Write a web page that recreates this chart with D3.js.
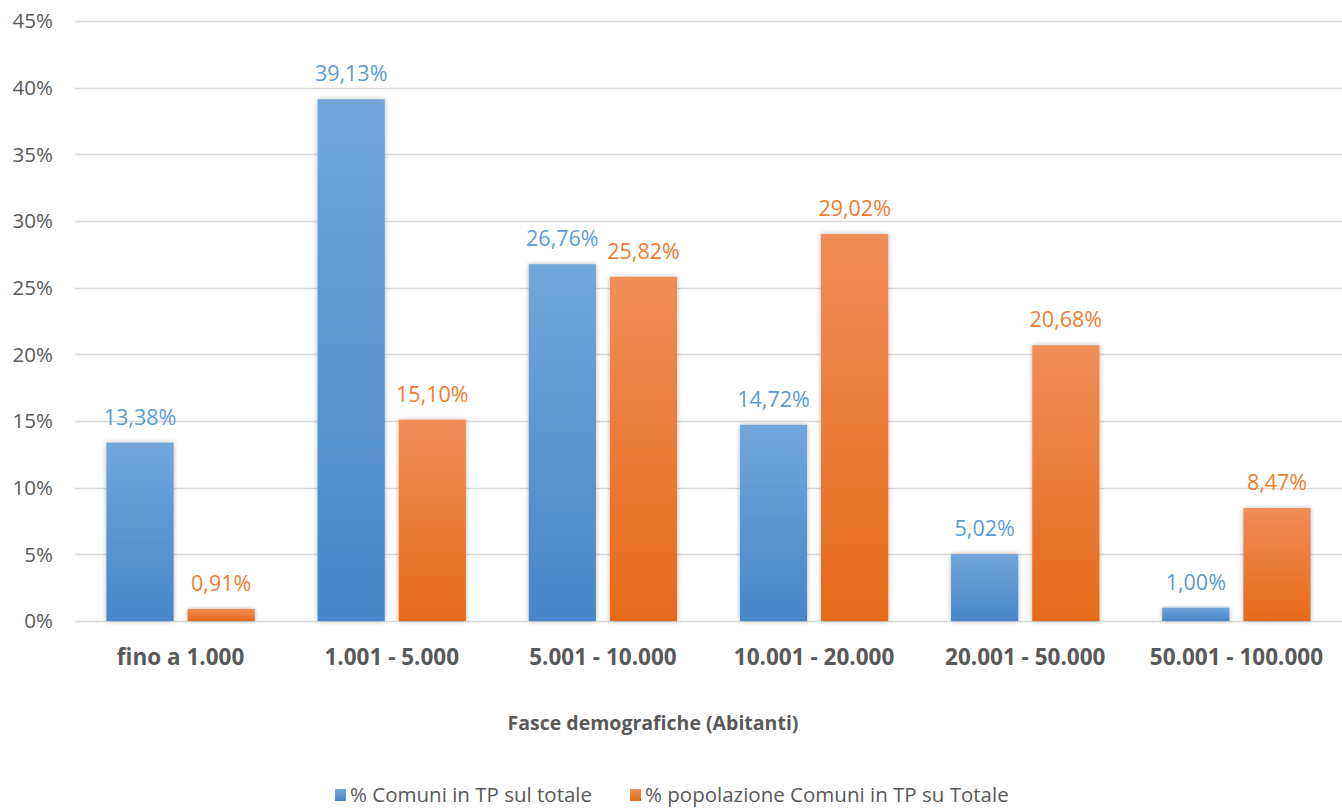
<!DOCTYPE html>
<html lang="it">
<head>
<meta charset="UTF-8">
<title>Comuni in TP per fasce demografiche</title>
<script src="https://d3js.org/d3.v7.min.js"></script>
<style>
  body { margin: 0; background: #fff; }
  svg { display: block; font-family: "Open Sans", "Noto Sans", sans-serif; }
</style>
</head>
<body>
<div id="chart"></div>
<script>
const categories = ["fino a 1.000", "1.001 - 5.000", "5.001 - 10.000", "10.001 - 20.000", "20.001 - 50.000", "50.001 - 100.000"];
const comuni = [13.38, 39.13, 26.76, 14.72, 5.02, 1.00];
const popolazione = [0.91, 15.10, 25.82, 29.02, 20.68, 8.47];
const seriesNames = ["% Comuni in TP sul totale", "% popolazione Comuni in TP su Totale"];
const yTicks = [0, 5, 10, 15, 20, 25, 30, 35, 40, 45];

const width = 1342, height = 808;
const margin = {left: 75, right: 0, top: 21, bottom: 187};

const svg = d3.select("#chart").append("svg")
    .attr("width", width)
    .attr("height", height);

const defs = svg.append("defs");
function grad(id, top, bottom) {
    const g = defs.append("linearGradient").attr("id", id)
        .attr("x1", 0).attr("y1", 0).attr("x2", 0).attr("y2", 1);
    g.append("stop").attr("offset", "0%").attr("stop-color", top);
    g.append("stop").attr("offset", "100%").attr("stop-color", bottom);
}
grad("gBlue", "#72a6da", "#4686c8");
grad("gOrange", "#f08d58", "#e56a19");

const shadow = defs.append("filter").attr("id", "shadow")
    .attr("x", "-20%").attr("y", "-20%").attr("width", "140%").attr("height", "140%");
shadow.append("feGaussianBlur").attr("in", "SourceAlpha").attr("stdDeviation", 2.5).attr("result", "b");
shadow.append("feComponentTransfer").attr("in", "b").attr("result", "s")
    .append("feFuncA").attr("type", "linear").attr("slope", 0.3);
const merge = shadow.append("feMerge");
merge.append("feMergeNode").attr("in", "s");
merge.append("feMergeNode").attr("in", "SourceGraphic");

const x0 = d3.scaleBand()
    .domain(categories)
    .range([margin.left, width - margin.right]);

const x1 = d3.scaleBand()
    .domain([0, 1])
    .range([0, x0.bandwidth()])
    .paddingInner(0.172)
    .paddingOuter(0.387);

const y = d3.scaleLinear()
    .domain([0, 45])
    .range([height - margin.bottom, margin.top]);

// gridlines
svg.append("g")
    .selectAll("line")
    .data(yTicks)
    .join("line")
    .attr("x1", margin.left)
    .attr("x2", width - margin.right)
    .attr("y1", d => Math.round(y(d)) + 0.5)
    .attr("y2", d => Math.round(y(d)) + 0.5)
    .attr("stroke", "#d9d9d9")
    .attr("stroke-width", 1.5);

// y labels
svg.append("g")
    .selectAll("text")
    .data(yTicks)
    .join("text")
    .attr("x", 53)
    .attr("y", d => y(d))
    .attr("dy", "0.35em")
    .attr("text-anchor", "end")
    .attr("fill", "#595959")
    .attr("font-size", 20.5)
    .text(d => d + "%");

const fmt = v => d3.format(".2f")(v).replace(".", ",") + "%";

const series = [
    {values: comuni, fill: "url(#gBlue)", color: "#5b9bd5"},
    {values: popolazione, fill: "url(#gOrange)", color: "#ed7d31"}
];

series.forEach((s, i) => {
    const g = svg.append("g");
    g.selectAll("rect")
        .data(categories)
        .join("rect")
        .attr("x", c => x0(c) + x1(i))
        .attr("y", (c, j) => y(s.values[j]))
        .attr("width", x1.bandwidth())
        .attr("height", (c, j) => y(0) - y(s.values[j]))
        .attr("fill", s.fill)
        .attr("filter", "url(#shadow)");
    g.selectAll("text")
        .data(categories)
        .join("text")
        .attr("x", c => x0(c) + x1(i) + x1.bandwidth() / 2)
        .attr("y", (c, j) => y(s.values[j]) - 18)
        .attr("text-anchor", "middle")
        .attr("fill", s.color)
        .attr("font-size", 21.5)
        .text((c, j) => fmt(s.values[j]));
});

// category labels
svg.append("g")
    .selectAll("text")
    .data(categories)
    .join("text")
    .attr("x", c => x0(c) + x0.bandwidth() / 2)
    .attr("y", 665)
    .attr("text-anchor", "middle")
    .attr("fill", "#595959")
    .attr("font-size", 22.5)
    .attr("font-weight", "bold")
    .text(c => c);

// axis title
svg.append("text")
    .attr("x", 653)
    .attr("y", 730)
    .attr("text-anchor", "middle")
    .attr("fill", "#595959")
    .attr("font-size", 19.5)
    .attr("font-weight", "bold")
    .text("Fasce demografiche (Abitanti)");

// legend
const legend = svg.append("g");
const legendX = [335, 630];
seriesNames.forEach((name, i) => {
    legend.append("rect")
        .attr("x", legendX[i])
        .attr("y", 789)
        .attr("width", 11)
        .attr("height", 12)
        .attr("fill", series[i].fill);
    legend.append("text")
        .attr("x", legendX[i] + 15)
        .attr("y", 795)
        .attr("dy", "0.35em")
        .attr("fill", "#595959")
        .attr("font-size", 20.5)
        .text(name);
});
</script>
</body>
</html>
